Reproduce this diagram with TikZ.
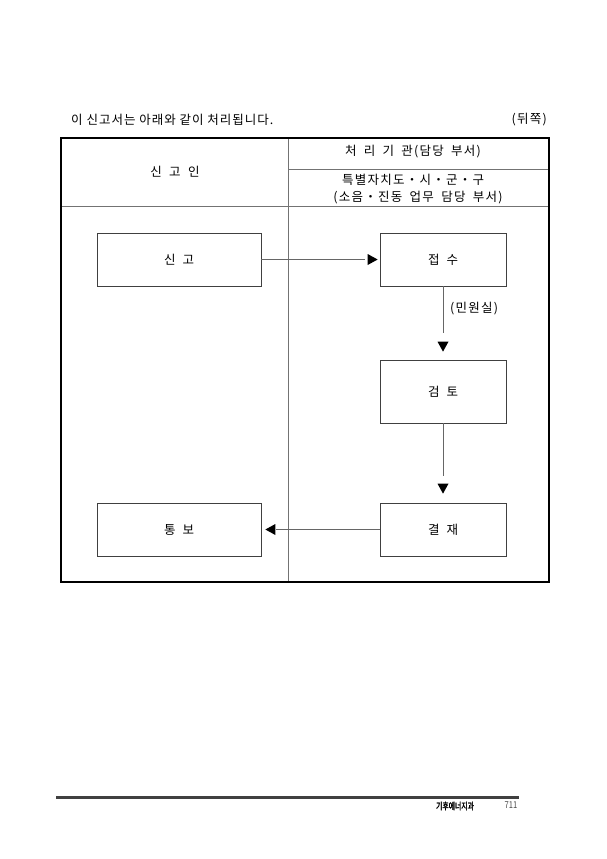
\documentclass[tikz,border=0pt]{standalone}
\usepackage{fontspec}
\setmainfont{Noto Sans CJK KR}[AutoFakeBold=2]
\newfontfamily\hdrfont{Noto Sans CJK KR}[LetterSpace=10,WordSpace=1.8]
\newfontfamily\ttlfont{Noto Sans CJK KR}[LetterSpace=8]
\newfontfamily\footfont{Noto Sans CJK KR}[FakeStretch=0.72,FakeBold=2]
\newfontfamily\numfont{Noto Sans CJK KR}[FakeStretch=0.8]
\begin{document}
\begin{tikzpicture}[x=1pt,y=-1pt,
  inner/.style={draw=black!55,line width=0.8pt},
  boxnode/.style={draw=black!75,line width=0.7pt,minimum width=126pt,minimum height=53pt,inner sep=0pt,font=\fontsize{12.5}{14}\selectfont},
  widebox/.style={boxnode,minimum width=164pt},
  conn/.style={draw=black!60,line width=0.8pt},
  tip/.style={fill=black},
  txt/.style={inner sep=0pt,font=\hdrfont\fontsize{12.5}{14}\selectfont}]
\useasboundingbox[fill=white] (0,0) rectangle (607,859);
% title line
\node[inner sep=0pt,font=\ttlfont\fontsize{12.5}{14}\selectfont,anchor=west] (title) at (71,120) {이 신고서는 아래와 같이 처리됩니다.};
\node[txt,anchor=east] (side) at (547,120) {(뒤쪽)};
% table
\coordinate (tl) at (61,138);
\coordinate (br) at (549,582);
\draw[inner] (288,138) -- (288,582);
\draw[inner] (61,206) -- (549,206);
\draw[inner] (288,169) -- (549,169);
\draw[line width=1.8pt] (tl) rectangle (br);
% header texts
\node[txt] (applicant) at (175,172) {신 고 인};
\node[txt] (agency) at (413,152) {처 리 기 관(담당 부서)};
\node[txt] (agency2) at (413,180) {특별자치도・시・군・구};
\node[txt] (agency3) at (418,198) {(소음・진동 업무 담당 부서)};
% boxes
\node[widebox] (singo) at (179,259.5) {신\hspace{7pt}고};
\node[boxnode] (jeopsu) at (443,259.5) {접\hspace{7pt}수};
\node[boxnode,minimum height=63pt] (geomto) at (443,391.5) {검\hspace{7pt}토};
\node[boxnode] (gyeoljae) at (443,529.5) {결\hspace{7pt}재};
\node[widebox] (tongbo) at (179,529.5) {통\hspace{7pt}보};
% arrows
\coordinate (e1) at ([xshift=-15pt]jeopsu.west);
\draw[conn] (singo.east) -- (e1);
\coordinate (t1) at ([xshift=-2pt]jeopsu.west);
\fill[tip] (t1) -- ++(-10,-5.5) -- ++(0,11) -- cycle;

\coordinate (e2) at ([yshift=27pt]geomto.north);
\draw[conn] (jeopsu.south) -- (e2);
\coordinate (t2) at ([yshift=8pt]geomto.north);
\fill[tip] (t2) -- ++(-5.5,-10) -- ++(11,0) -- cycle;
\node[txt] (minwon) at (474,309) {(민원실)};

\coordinate (e3) at ([yshift=27pt]gyeoljae.north);
\draw[conn] (geomto.south) -- (e3);
\coordinate (t3) at ([yshift=9pt]gyeoljae.north);
\fill[tip] (t3) -- ++(-5.5,-10) -- ++(11,0) -- cycle;

\coordinate (e4) at ([xshift=15pt]tongbo.east);
\draw[conn] (gyeoljae.west) -- (e4);
\coordinate (t4) at ([xshift=4pt]tongbo.east);
\fill[tip] (t4) -- ++(10,-5.5) -- ++(0,11) -- cycle;
% footer
\draw[line width=3pt,black!75] (56,797) -- (519,797);
\node[inner sep=0pt,font=\footfont\fontsize{9.5}{11}\selectfont] (dept) at (455,806) {기후에너지과};
\node[inner sep=0pt,font=\numfont\fontsize{9.5}{11}\selectfont,text=black!70] (page) at (511,805) {711};
\end{tikzpicture}
\end{document}
